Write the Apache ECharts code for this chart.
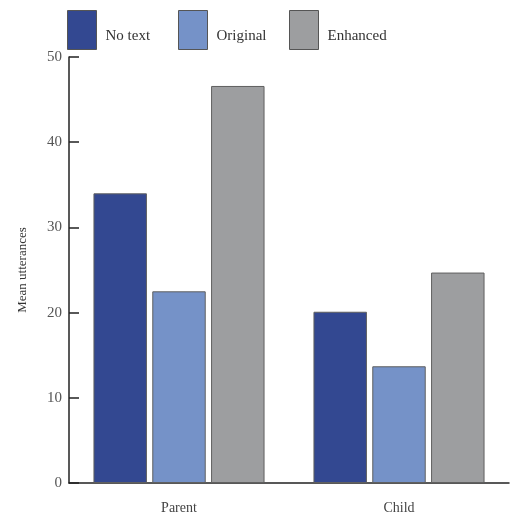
<!DOCTYPE html>
<html>
<head>
<meta charset="utf-8">
<script src="https://cdn.jsdelivr.net/npm/echarts@6/dist/echarts.min.js"></script>
<style>html,body{margin:0;padding:0;background:#fff}#c{width:517px;height:515px}</style>
</head>
<body>
<div id="c"></div>
<script>
const categories = ['Parent', 'Child'];
const seriesNames = ['No text', 'Original', 'Enhanced'];
const noText = [34.0, 20.1];
const original = [22.5, 13.7];
const enhanced = [46.6, 24.7];
const yTicks = [0, 10, 20, 30, 40, 50];

const font = '"Liberation Serif", "DejaVu Serif", serif';
const chart = echarts.init(document.getElementById('c'));
const border = { borderColor: '#606060', borderWidth: 1 };
const legendLefts = [67, 178, 289];
const legends = seriesNames.map((n, i) => ({
  left: legendLefts[i], top: 10, padding: 0,
  icon: 'rect',
  itemWidth: 29, itemHeight: 39,
  itemStyle: { borderColor: '#555', borderWidth: 1 },
  formatter: name => '{t|' + name + '}',
  textStyle: {
    fontFamily: font, fontSize: 15, color: '#333',
    rich: { t: { fontFamily: font, fontSize: 15, color: '#333', padding: [13, 0, 0, 4] } }
  },
  data: [n]
}));
chart.setOption({
  animation: false,
  legend: legends,
  grid: { left: 69, right: 8, top: 57, bottom: 32 },
  xAxis: {
    type: 'category', data: categories,
    axisLine: { lineStyle: { color: '#222', width: 1.5 } },
    axisTick: { inside: true, length: 9, lineStyle: { color: '#222', width: 1.5 } },
    axisLabel: { fontFamily: font, fontSize: 14, color: '#444', margin: 18 }
  },
  yAxis: {
    type: 'value', min: 0, max: 50, interval: 10,
    name: 'Mean utterances', nameLocation: 'middle', nameGap: 40,
    nameTextStyle: { fontFamily: font, fontSize: 13, color: '#333' },
    splitLine: { show: false },
    axisLine: { show: true, lineStyle: { color: '#222', width: 1.5 } },
    axisTick: { show: true, inside: true, length: 10, lineStyle: { color: '#222', width: 1.5 } },
    axisLabel: {
      fontFamily: font, fontSize: 15, color: '#555', margin: 7,
      formatter: v => yTicks.includes(v) ? String(v) : ''
    }
  },
  series: [
    { name: seriesNames[0], type: 'bar', data: noText, barWidth: '24.3%', barGap: '10%', itemStyle: Object.assign({ color: '#334891' }, border) },
    { name: seriesNames[1], type: 'bar', data: original, barWidth: '24.3%', barGap: '10%', itemStyle: Object.assign({ color: '#7592c8' }, border) },
    { name: seriesNames[2], type: 'bar', data: enhanced, barWidth: '24.3%', barGap: '10%', itemStyle: Object.assign({ color: '#9d9ea0' }, border) }
  ]
});
</script>
</body>
</html>
